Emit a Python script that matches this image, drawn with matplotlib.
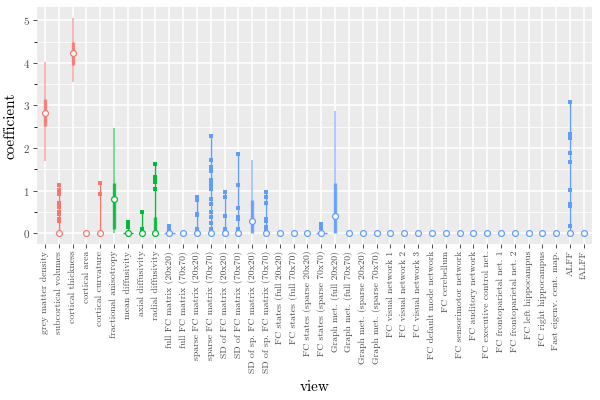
import numpy as np
import matplotlib
matplotlib.use("Agg")
import matplotlib.pyplot as plt
from matplotlib.ticker import MultipleLocator

# ==============================
# Data
# ==============================
views = [
    "grey matter density", "subcortical volumes", "cortical thickness", "cortical area",
    "cortical curvature", "fractional anisotropy", "mean diffusivity", "axial diffusivity",
    "radial diffusivity", "full FC matrix (20x20)", "full FC matrix (70x70)",
    "sparse FC matrix (20x20)", "sparse FC matrix (70x70)", "SD of FC matrix (20x20)",
    "SD of FC matrix (70x70)", "SD of sp. FC matrix (20x20)", "SD of sp. FC matrix (70x70)",
    "FC states (full 20x20)", "FC states (full 70x70)", "FC states (sparse 20x20)",
    "FC states (sparse 70x70)", "Graph met. (full 20x20)", "Graph met. (full 70x70)",
    "Graph met. (sparse 20x20)", "Graph met. (sparse 70x70)", "FC visual network 1",
    "FC visual network 2", "FC visual network 3", "FC default mode network", "FC cerebellum",
    "FC sensorimotor network", "FC auditory network", "FC executive control net.",
    "FC frontoparietal net. 1", "FC frontoparietal net. 2", "FC left hippocampus",
    "FC right hippocampus", "Fast eigenv. cent. map.", "ALFF", "fALFF",
]
modality = ["struct"] * 5 + ["diff"] * 4 + ["func"] * 31

nan = np.nan
medians = [2.83, 0, 4.22, 0, 0, 0.81, 0, 0, 0, 0, 0, 0, 0, 0, 0, 0.29, 0, 0, 0, 0, 0,
           0.41, 0, 0, 0, 0, 0, 0, 0, 0, 0, 0, 0, 0, 0, 0, 0, 0, 0, 0]
inner_lo = [2.52, nan, 3.94, nan, nan, 0.11, nan, nan, 0.0, nan, nan, nan, nan, nan, nan, 0.0,
            nan, nan, nan, nan, nan, 0.0] + [nan] * 18
inner_hi = [3.16, nan, 4.48, nan, nan, 1.18, nan, nan, 0.38, nan, nan, nan, nan, nan, nan, 0.77,
            nan, nan, nan, nan, nan, 1.17] + [nan] * 18
outer_lo = [1.70, nan, 3.55, nan, nan, 0.0, nan, nan, nan, nan, nan, nan, nan, nan, nan, 0.0,
            nan, nan, nan, nan, nan, 0.0] + [nan] * 18
outer_hi = [4.02, nan, 5.06, nan, nan, 2.46, nan, nan, nan, nan, nan, nan, nan, nan, nan, 1.71,
            nan, nan, nan, nan, nan, 2.88] + [nan] * 18

# individual estimates drawn as small dots along a line
points = [[] for _ in views]
points[1] = [0, 0.29, 0.34, 0.45, 0.50, 0.62, 0.70, 0.91, 1.01, 1.14]
points[4] = [0, 0.91, 1.17]
points[6] = [0, 0.15, 0.22, 0.27]
points[7] = [0, 0.05, 0.09, 0.50]
points[8] = [0, 1.03, 1.20, 1.26, 1.31, 1.62]
points[9] = [0, 0.10, 0.17]
points[11] = [0, 0.03, 0.09, 0.42, 0.46, 0.77, 0.85]
points[12] = [0, 0.09, 0.24, 0.38, 0.50, 0.68, 0.81, 1.03, 1.13, 1.20, 1.26, 1.46, 1.56, 1.73, 2.28]
points[13] = [0, 0.09, 0.41, 0.85, 0.97]
points[14] = [0, 0.11, 0.33, 0.38, 0.59, 1.14, 1.85]
points[16] = [0, 0.07, 0.15, 0.29, 0.34, 0.72, 0.85, 0.97]
points[20] = [0, 0.13, 0.21]
points[38] = [0, 0.17, 0.64, 0.68, 1.01, 1.67, 1.89, 2.24, 2.34, 3.08]

# views whose zero estimates are spread sideways
spread = ["mean diffusivity", "full FC matrix (20x20)", "FC states (sparse 70x70)"]

colors = {"struct": "#F8766D", "diff": "#00BA38", "func": "#619CFF"}

# ==============================
# Style
# ==============================
plt.rcParams["font.family"] = ["cmr10", "DejaVu Serif"]
plt.rcParams["axes.formatter.use_mathtext"] = True

fig = plt.figure(figsize=(6, 4), dpi=100)
ax = fig.add_axes([0.061, 0.39, 0.926, 0.5925])
ax.set_facecolor("#EBEBEB")
for s in ax.spines.values():
    s.set_visible(False)

x = np.arange(1, len(views) + 1)
ax.set_xlim(0.4, len(views) + 0.6)
ax.set_ylim(-0.253, 5.31)
ax.yaxis.set_major_locator(MultipleLocator(1))
ax.yaxis.set_minor_locator(MultipleLocator(0.5))
ax.grid(True, which="major", color="white", lw=1.1, zorder=0)
ax.grid(True, which="minor", axis="y", color="white", lw=0.55, zorder=0)
ax.set_axisbelow(True)

# ==============================
# Marks
# ==============================
for i, v in enumerate(views):
    c = colors[modality[i]]
    xi = x[i]
    if not np.isnan(outer_lo[i]):
        ax.vlines(xi, outer_lo[i], outer_hi[i], color=c, lw=1.2, alpha=0.6, zorder=2)
    if not np.isnan(inner_lo[i]):
        ax.vlines(xi, inner_lo[i], inner_hi[i], color=c, lw=2.4, alpha=0.85, zorder=3)
    if points[i]:
        ax.vlines(xi, min(points[i]), max(points[i]), color=c, lw=1.0, zorder=3)
        ax.plot([xi] * len(points[i]), points[i], ls="none", marker="s", ms=2.6,
                mew=0, color=c, zorder=4)
    if v in spread:
        ax.hlines(0, xi - 0.38, xi + 0.38, color=c, lw=1.0, zorder=3)
    ax.plot(xi, medians[i], ls="none", marker="o", ms=4.2, mfc="white", mec=c,
            mew=0.9, zorder=5)

# ==============================
# Axes text
# ==============================
ax.set_xticks(x)
ax.set_xticklabels(views, rotation=90, fontsize=7, color="#4D4D4D")
ax.tick_params(axis="both", length=2.8, width=0.6, color="#333333", pad=2)
ax.tick_params(axis="y", labelsize=8, labelcolor="#4D4D4D")
ax.set_xlabel("view", fontsize=11)
ax.set_ylabel("coefficient", fontsize=11)
ax.xaxis.set_label_coords(0.5, -0.575)

fig.savefig("out.png", dpi=100)
